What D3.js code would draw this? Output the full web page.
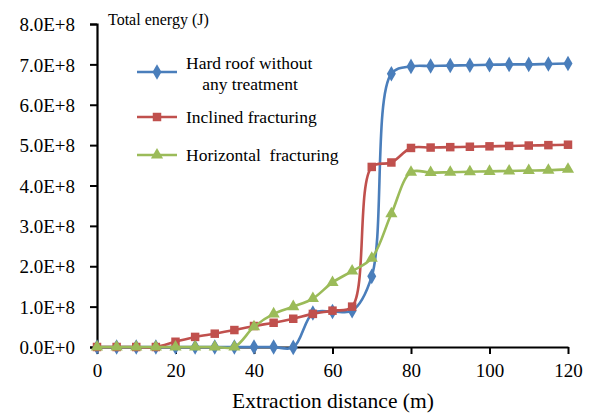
<!DOCTYPE html>
<html>
<head>
<meta charset="UTF-8">
<script src="https://d3js.org/d3.v7.min.js"></script>
<style>
  body { margin: 0; background: #fff; }
  svg text { font-family: "Liberation Serif", "Times New Roman", serif; fill: #000; white-space: pre; }
</style>
</head>
<body>
<script>
// data
var distance = [0,5,10,15,20,25,30,35,40,45,50,55,60,65,70,75,80,85,90,95,100,105,110,115,120];
var hardRoof = [0,0,0,0,0,0,0,0,0,0,-0.01,0.84,0.88,0.9,1.75,6.77,6.95,6.96,6.97,6.98,6.99,7.0,7.0,7.01,7.02];
var inclined = [0,0,0,0,0.13,0.25,0.33,0.42,0.52,0.6,0.7,0.82,0.9,1.0,4.46,4.57,4.93,4.94,4.95,4.96,4.97,4.98,4.99,5.0,5.01];
var horizontal = [0,0,0,0,0,0,0,0,0.5,0.82,1.0,1.2,1.6,1.88,2.2,3.3,4.33,4.32,4.33,4.34,4.35,4.36,4.37,4.38,4.4];
var yTicks = [0,1,2,3,4,5,6,7,8];
var xTicks = [0,20,40,60,80,100,120];

var seriesList = [
  { name: ["Hard roof without", "any treatment"], values: hardRoof, color: "#4a7ebb", marker: d3.symbolDiamond, size: 70 },
  { name: ["Inclined fracturing"], values: inclined, color: "#c0504d", marker: d3.symbolSquare, size: 72 },
  { name: ["Horizontal  fracturing"], values: horizontal, color: "#9bbb59", marker: d3.symbolTriangle, size: 64 }
];

var w = 595, h = 416;
var serif = "Liberation Serif, Times New Roman, serif";
var svg = d3.select("body").append("svg").attr("width", w).attr("height", h);

var x = d3.scaleLinear().domain([0, 120]).range([97, 568]);
var y = d3.scaleLinear().domain([0, 8]).range([347, 24]);

// axes
var yAxis = svg.append("g").attr("transform", "translate(" + x(0) + ",0)")
  .call(d3.axisLeft(y).tickValues(yTicks).tickSize(7).tickPadding(15)
    .tickFormat(function(d) { return d === 0 ? "0.0E+0" : d.toFixed(1) + "E+8"; }));
yAxis.attr("font-family", serif).attr("font-size", 19);
yAxis.select(".domain").attr("stroke", "#000").attr("stroke-width", 2.2);
yAxis.selectAll(".tick line").attr("stroke", "#000").attr("stroke-width", 2);
yAxis.selectAll("text").attr("dy", "0.35em");

var xAxis = svg.append("g").attr("transform", "translate(0," + y(0) + ")")
  .call(d3.axisBottom(x).tickValues(xTicks).tickSize(7).tickPadding(10).tickSizeOuter(0));
xAxis.attr("font-family", serif).attr("font-size", 19);
xAxis.select(".domain").attr("stroke", "#000").attr("stroke-width", 2.2);
xAxis.selectAll(".tick line").attr("stroke", "#000").attr("stroke-width", 2);

svg.append("text").attr("x", 333).attr("y", 408).attr("text-anchor", "middle")
  .style("font-size", "21.5px").text("Extraction distance (m)");
svg.append("text").attr("x", 108).attr("y", 25)
  .style("font-size", "16px").text("Total energy (J)");

// series
var line = d3.line()
  .x(function(d, i) { return x(distance[i]); })
  .y(function(d) { return y(d); })
  .curve(d3.curveCatmullRom.alpha(0.5));

seriesList.forEach(function(s) {
  svg.append("path").attr("d", line(s.values))
    .attr("fill", "none").attr("stroke", s.color).attr("stroke-width", 2.6);
  svg.selectAll(null).data(s.values).enter().append("path")
    .attr("transform", function(d, i) { return "translate(" + x(distance[i]) + "," + y(d) + ")"; })
    .attr("d", d3.symbol().type(s.marker).size(s.size))
    .attr("fill", s.color);
});

// legend
var legendY = [72, 117, 155];
seriesList.forEach(function(s, i) {
  var g = svg.append("g").attr("transform", "translate(0," + legendY[i] + ")");
  g.append("line").attr("x1", 137).attr("x2", 177).attr("stroke", s.color).attr("stroke-width", 2.6);
  g.append("path").attr("transform", "translate(157,0)")
    .attr("d", d3.symbol().type(s.marker).size(s.size)).attr("fill", s.color);
  if (s.name.length > 1) {
    g.append("text").attr("x", 186).attr("y", -3).style("font-size", "17.5px").text(s.name[0]);
    g.append("text").attr("x", 250).attr("y", 18).attr("text-anchor", "middle").style("font-size", "17.5px").text(s.name[1]);
  } else {
    g.append("text").attr("x", 186).attr("y", 6).style("font-size", "17.5px").text(s.name[0]);
  }
});
</script>
</body>
</html>
